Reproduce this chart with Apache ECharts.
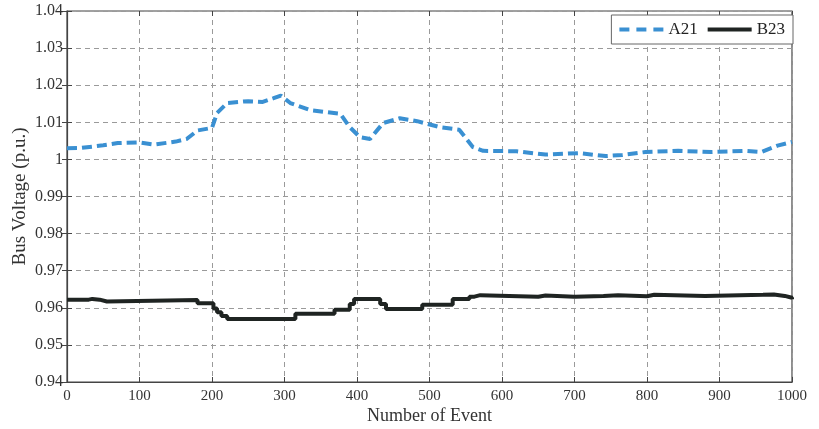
<!DOCTYPE html>
<html><head><meta charset="utf-8">
<script src="https://cdn.jsdelivr.net/npm/echarts@6/dist/echarts.min.js"></script>
<style>html,body{margin:0;padding:0;background:#fff}#c{width:819px;height:429px}</style>
</head><body><div id="c"></div>
<script>
const xTicks = [0,100,200,300,400,500,600,700,800,900,1000];
const yTicks = [0.94,0.95,0.96,0.97,0.98,0.99,1,1.01,1.02,1.03,1.04];
const a21Events = [0,20,50,70,100,120,150,165,180,200,207,221,250,270,285,295,308,335,377,390,404,418,436,459,483,514,541,560,574,620,660,706,743,766,798,843,889,934,958,980,1000];
const a21Values = [1.003,1.0031,1.0038,1.0044,1.0046,1.004,1.0048,1.0055,1.0078,1.0085,1.0125,1.0152,1.0157,1.0155,1.0165,1.0172,1.0152,1.0133,1.0123,1.0087,1.006,1.0055,1.0098,1.0111,1.0103,1.0087,1.008,1.0033,1.0023,1.0022,1.0013,1.0017,1.0009,1.0012,1.002,1.0023,1.002,1.0023,1.002,1.0037,1.0047];
const b23Events = [0,30,35,45,55,180,202,207,213,221,315,369,390,396,432,440,490,532,555,562,570,650,660,700,740,760,800,810,880,960,975,990,1000];
const b23Values = [0.9622,0.9624,0.9622,0.9617,0.9621,0.9612,0.9598,0.9588,0.9578,0.957,0.9584,0.9595,0.961,0.9624,0.961,0.9597,0.9608,0.9624,0.963,0.9634,0.963,0.9633,0.963,0.9632,0.9634,0.9631,0.9635,0.9632,0.9635,0.9636,0.9632,0.9627,0.9623];

const a21 = a21Events.map((e,i)=>[e,a21Values[i]]);
const b23 = b23Events.map((e,i)=>[e,b23Values[i]]);
const font = 'Liberation Serif';
const blue = '#3a90d2', black = '#1f2422';
const chart = echarts.init(document.getElementById('c'), null, {renderer:'canvas'});
const gridLine = {show:true, lineStyle:{type:[5,4], color:'#9a9a9a', width:1}};
chart.setOption({
  animation:false,
  backgroundColor:'#fff',
  textStyle:{fontFamily:font},
  grid:{left:67, right:27, top:11, bottom:47, containLabel:false, outerBoundsMode:'none',
    show:true, borderColor:'#444', borderWidth:1.2, backgroundColor:'transparent'},
  legend:{
    right:26, top:15, orient:'horizontal', itemWidth:44, itemHeight:4, itemGap:10,
    padding:[6,8,6,8], borderColor:'#666', borderWidth:1, backgroundColor:'#fff',
    textStyle:{fontFamily:font, fontSize:17, color:'#222'},
    data:[
      {name:'A21', icon:'path://M0,0h10v4h-10z M17,0h10v4h-10z M34,0h10v4h-10z', itemStyle:{color:blue}},
      {name:'B23', icon:'rect', itemStyle:{color:black}}
    ]
  },
  xAxis:[{
    type:'value', min:0, max:1000, interval:100,
    name:'Number of Event', nameLocation:'middle', nameGap:25, nameMoveOverlap:false,
    nameTextStyle:{fontFamily:font, fontSize:18, color:'#333'},
    axisLine:{show:true, lineStyle:{color:'#444', width:1.2}},
    axisTick:{show:true, inside:true, length:5, lineStyle:{color:'#444'}},
    axisLabel:{fontFamily:font, fontSize:15, color:'#333', margin:7,
      formatter:v=>xTicks.includes(v)?String(v):''},
    splitLine:gridLine
  },{
    type:'value', min:0, max:1000, interval:100, position:'top',
    axisLine:{show:false}, axisTick:{show:true, inside:true, length:5, lineStyle:{color:'#444'}},
    axisLabel:{show:false}, splitLine:{show:false}
  }],
  yAxis:[{
    type:'value', min:0.94, max:1.04, interval:0.01,
    name:'Bus Voltage (p.u.)', nameLocation:'middle', nameGap:37, nameMoveOverlap:false,
    nameTextStyle:{fontFamily:font, fontSize:19, color:'#333'},
    axisLine:{show:true, lineStyle:{color:'#444', width:1.2}},
    axisTick:{show:true, inside:true, length:5, lineStyle:{color:'#444'}},
    axisLabel:{fontFamily:font, fontSize:16, color:'#333', margin:4,
      formatter:v=>{const t=yTicks.find(y=>Math.abs(y-v)<1e-9); return t===undefined?'':String(t);}},
    splitLine:gridLine
  },{
    type:'value', min:0.94, max:1.04, interval:0.01, position:'right',
    axisLine:{show:false}, axisTick:{show:true, inside:true, length:5, lineStyle:{color:'#444'}},
    axisLabel:{show:false}, splitLine:{show:false}
  }],
  series:[{
    name:'A21', type:'line', data:a21, showSymbol:false, symbol:'none', smooth:false,
    lineStyle:{color:blue, width:4, type:[10,5]}, itemStyle:{color:blue}
  },{
    name:'B23', type:'line', data:b23, showSymbol:false, symbol:'none', step:'end',
    lineStyle:{color:black, width:4}, itemStyle:{color:black}
  }]
});
</script></body></html>
